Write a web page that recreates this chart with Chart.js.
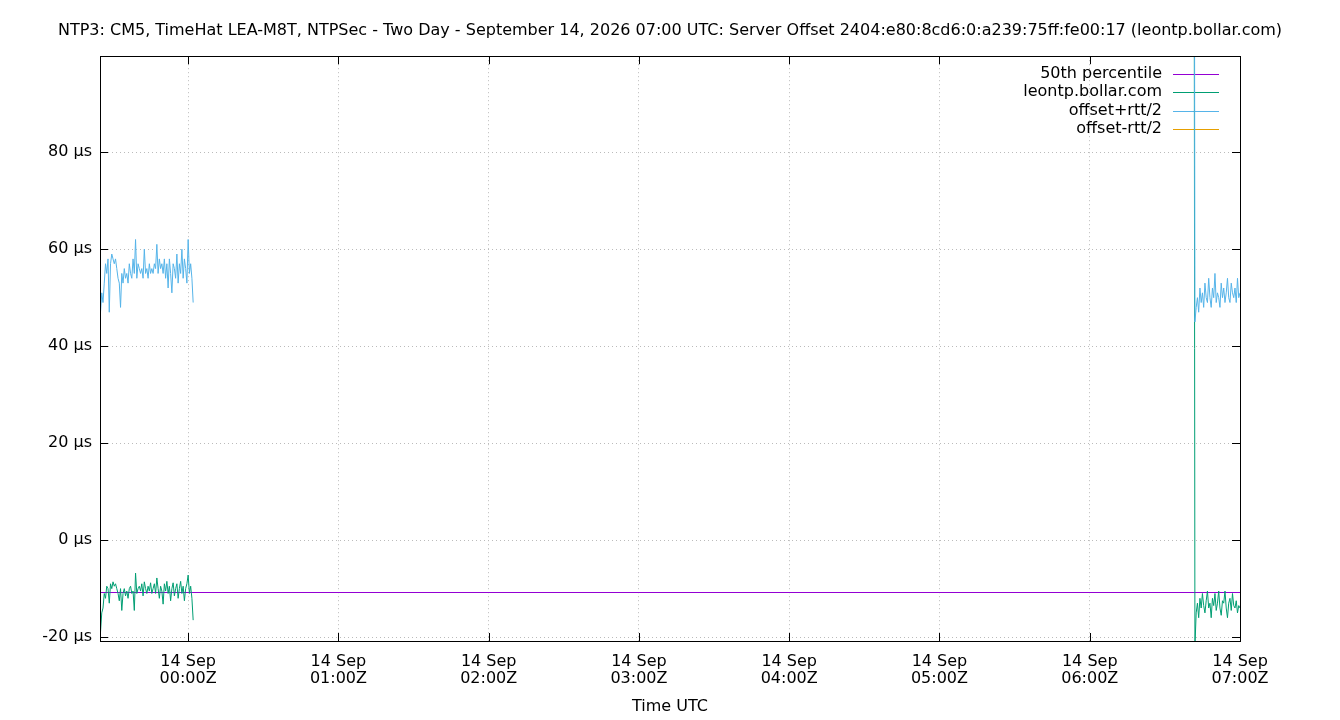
<!DOCTYPE html>
<html>
<head>
<meta charset="utf-8">
<title>Server Offset - leontp.bollar.com</title>
<script src="https://cdn.jsdelivr.net/npm/chart.js@4.4.1/dist/chart.umd.min.js"></script>
<style>
  html, body { margin: 0; padding: 0; background: #fff; }
  #wrap { width: 1340px; height: 720px; }
</style>
</head>
<body>
<div id="wrap"><canvas id="chart"></canvas></div>
<script>
const chartTitle = "NTP3: CM5, TimeHat LEA-M8T, NTPSec - Two Day - September 14, 2026 07:00 UTC: Server Offset 2404:e80:8cd6:0:a239:75ff:fe00:17 (leontp.bollar.com)";
const seriesNames = ["50th percentile", "leontp.bollar.com", "offset+rtt/2", "offset-rtt/2"];
const seriesColors = ["#9400d3", "#009e73", "#56b4e9", "#e69f00"];

// time is in minutes from 14 Sep 00:00Z
const xMin = -35.2;
const xMax = 420;
const sampleStep = 0.5;
const leftStart = -35.5;
const rightStart = 401.5;

const xTicks = [0, 60, 120, 180, 240, 300, 360, 420];
const xTickLabels = [
  ["14 Sep", "00:00Z"], ["14 Sep", "01:00Z"], ["14 Sep", "02:00Z"], ["14 Sep", "03:00Z"],
  ["14 Sep", "04:00Z"], ["14 Sep", "05:00Z"], ["14 Sep", "06:00Z"], ["14 Sep", "07:00Z"]
];
const yMin = -20.8;
const yMax = 99.8;
const yTicks = [-20, 0, 20, 40, 60, 80];

// values in µs
const medianOffset = -10.8;

const leftOffset = [
  -17, -19, -15, -14,
  -11, -12, -9.5, -10, -13,
  -9, -10, -8.6, -9.5, -9, -10,
  -11, -12.5, -10, -14.5, -11,
  -10, -11.5, -10.5, -12, -10, -9.5, -11,
  -10.5, -14.5, -6.8, -11, -10, -9.5,
  -10.5, -9, -11.5, -8.6, -10, -11, -9.5, -10.5, -8.8, -11, -10,
  -9, -11, -7.8, -10, -12, -9.5, -10.5, -13.2, -9, -10.5, -8.5,
  -11, -9.5, -12.5, -10, -8.8, -11.5, -10,
  -9, -12, -10, -8.5, -11, -9.5, -12.5, -10, -9,
  -7.2, -11, -9.5, -12, -16.5
];
const leftUpper = [
  48, 47, 51, 49,
  53, 57, 55, 58, 47,
  57, 59, 58, 57, 58, 56,
  54, 53, 48, 55, 53,
  56, 54, 55, 53, 57, 55, 54,
  58, 55, 62, 54, 57, 56,
  55, 56, 54, 60, 55, 56, 54, 57, 55, 56, 55,
  57, 56, 61, 55, 58, 56, 57, 55, 58, 54, 57,
  52, 58, 55, 51, 57, 56, 54,
  59, 53, 57, 55, 60, 54, 58, 56, 53,
  62, 55, 57, 54, 49
];
const rightOffset = [
  240, -22, -15, -13, -16, -12, -14, -11, -13.5, -15,
  -12.5, -10.5, -14, -13, -16, -12, -13.5, -11, -14.5, -13,
  -10.5, -14, -15.5, -12.5, -13, -10.5, -14, -16, -13, -12,
  -14.5, -11, -13.5, -14, -12.5, -15, -13.5, -14
];
const rightUpper = [
  260, 45, 48, 50, 47, 52, 49, 51, 48, 53,
  50, 49, 54, 50, 48, 52, 50, 55, 49, 51,
  50, 48, 53, 50, 52, 49, 51, 54, 50, 49,
  53, 51, 50, 52, 49, 54, 50, 51
];
const leftLower = [];
const rightLower = [];

function toPoints(start, vals) {
  return vals.map((v, i) => ({ x: start + i * sampleStep, y: v }));
}
function splitSeries(left, right) {
  const gapX = (leftStart + (leftOffset.length - 1) * sampleStep + rightStart) / 2;
  return [...toPoints(leftStart, left), { x: gapX, y: null }, ...toPoints(rightStart, right)];
}

Chart.defaults.font.family = "'DejaVu Sans', sans-serif";
Chart.defaults.font.size = 16;
Chart.defaults.color = "#000";

// gnuplot style key: text on the left, sample line on the right
const keyPlugin = {
  id: "key",
  beforeDatasetsDraw(chart) {
    const { ctx, chartArea } = chart;
    const lineEnd = chartArea.right - 21;
    const lineStart = lineEnd - 46;
    ctx.save();
    ctx.font = "16px 'DejaVu Sans', sans-serif";
    ctx.textAlign = "right";
    ctx.textBaseline = "middle";
    chart.data.datasets.forEach((ds, i) => {
      const y = chartArea.top + 17.5 + i * 18.5;
      ctx.fillStyle = "#000";
      ctx.fillText(ds.label, lineStart - 11, y);
      ctx.strokeStyle = seriesColors[i];
      ctx.lineWidth = 1;
      ctx.beginPath();
      ctx.moveTo(lineStart, Math.round(y) + 0.5);
      ctx.lineTo(lineEnd, Math.round(y) + 0.5);
      ctx.stroke();
    });
    ctx.restore();
  }
};

// box around the plot with inward tick marks on all four sides
const framePlugin = {
  id: "frame",
  afterDatasetsDraw(chart) {
    const { ctx, chartArea, scales } = chart;
    const { left, right, top, bottom } = chartArea;
    const tick = 8;
    ctx.save();
    ctx.strokeStyle = "#000";
    ctx.lineWidth = 1;
    ctx.beginPath();
    scales.x.ticks.forEach(t => {
      const x = Math.round(scales.x.getPixelForValue(t.value)) + 0.5;
      ctx.moveTo(x, bottom); ctx.lineTo(x, bottom - tick);
      ctx.moveTo(x, top); ctx.lineTo(x, top + tick);
    });
    scales.y.ticks.forEach(t => {
      const y = Math.round(scales.y.getPixelForValue(t.value)) + 0.5;
      ctx.moveTo(left, y); ctx.lineTo(left + tick, y);
      ctx.moveTo(right, y); ctx.lineTo(right - tick, y);
    });
    ctx.stroke();
    ctx.strokeRect(Math.round(left) + 0.5, Math.round(top) + 0.5,
      Math.round(right - left), Math.round(bottom - top));
    ctx.restore();
  }
};

const ctx = document.getElementById("chart").getContext("2d");
new Chart(ctx, {
  type: "line",
  data: {
    datasets: [
      {
        label: seriesNames[0],
        data: [{ x: xMin, y: medianOffset }, { x: xMax, y: medianOffset }],
        borderColor: seriesColors[0],
        order: 4,
      },
      {
        label: seriesNames[1],
        data: splitSeries(leftOffset, rightOffset),
        borderColor: seriesColors[1],
        order: 3,
      },
      {
        label: seriesNames[2],
        data: splitSeries(leftUpper, rightUpper),
        borderColor: seriesColors[2],
        order: 2,
      },
      {
        label: seriesNames[3],
        data: splitSeries(leftLower, rightLower),
        borderColor: seriesColors[3],
        order: 1,
      },
    ],
  },
  options: {
    responsive: true,
    maintainAspectRatio: false,
    animation: false,
    layout: { padding: 0 },
    elements: {
      line: { borderWidth: 1, tension: 0, fill: false },
      point: { radius: 0, hoverRadius: 0 },
    },
    spanGaps: false,
    plugins: {
      legend: { display: false },
      tooltip: { enabled: false },
      title: {
        display: true,
        text: chartTitle,
        color: "#000",
        font: { size: 16, weight: "normal" },
        padding: { top: 21, bottom: 16 },
      },
    },
    scales: {
      x: {
        type: "linear",
        min: xMin,
        max: xMax,
        afterBuildTicks: s => { s.ticks = xTicks.map(v => ({ value: v })); },
        afterFit: s => { s.height = 79; },
        grid: { color: "#bbbbbb", lineWidth: 1, drawTicks: false },
        border: { display: false, dash: [1, 3] },
        ticks: {
          autoSkip: false,
          maxRotation: 0,
          padding: 12,
          font: { size: 16, lineHeight: 1.08 },
          callback: v => xTickLabels[xTicks.indexOf(v)],
        },
        title: {
          display: true,
          text: "Time UTC",
          font: { size: 16 },
          padding: { top: 0, bottom: 4 },
        },
      },
      y: {
        min: yMin,
        max: yMax,
        afterBuildTicks: s => { s.ticks = yTicks.map(v => ({ value: v })); },
        afterFit: s => { s.width = 100; },
        grid: { color: "#bbbbbb", lineWidth: 1, drawTicks: false },
        border: { display: false, dash: [1, 3] },
        ticks: {
          padding: 8,
          font: { size: 16 },
          callback: v => v + " µs",
        },
      },
      // empty right-hand margin so the title centres on the whole canvas
      yRight: {
        position: "right",
        display: true,
        afterFit: s => { s.width = 100; },
        grid: { display: false, drawTicks: false },
        border: { display: false },
        ticks: { display: false },
      },
    },
  },
  plugins: [keyPlugin, framePlugin],
});
</script>
</body>
</html>
